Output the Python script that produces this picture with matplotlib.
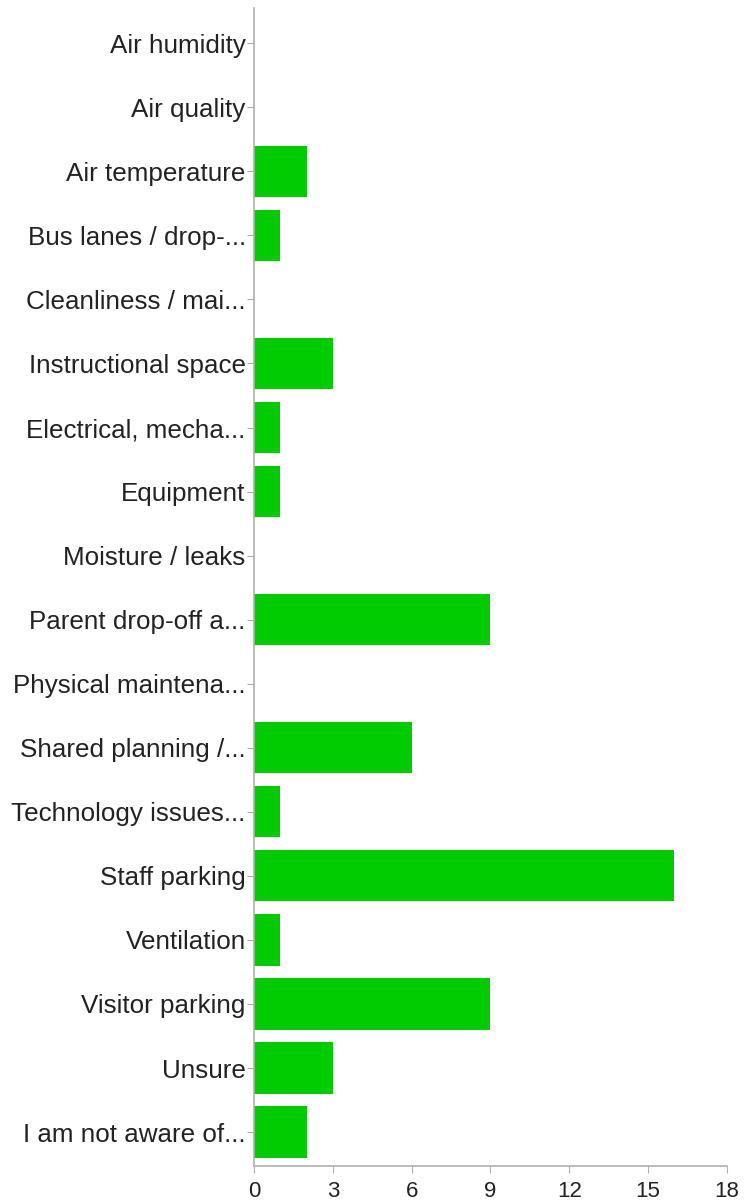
import matplotlib
matplotlib.use('Agg')
import matplotlib.pyplot as plt

categories = [
    'Air humidity', 'Air quality', 'Air temperature', 'Bus lanes / drop-...',
    'Cleanliness / mai...', 'Instructional space', 'Electrical, mecha...',
    'Equipment', 'Moisture / leaks', 'Parent drop-off a...',
    'Physical maintena...', 'Shared planning /...', 'Technology issues...',
    'Staff parking', 'Ventilation', 'Visitor parking', 'Unsure',
    'I am not aware of...',
]
counts = [0, 0, 2, 1, 0, 3, 1, 1, 0, 9, 0, 6, 1, 16, 1, 9, 3, 2]
xticks = [0, 3, 6, 9, 12, 15, 18]

plt.rcParams['font.family'] = ['Liberation Sans', 'DejaVu Sans']

fig = plt.figure(figsize=(7.44, 12.03), dpi=100)
# axes box in pixels: left 254, right 727, top 8, bottom 1166
ax = fig.add_axes([254 / 744, 37 / 1203, (727 - 254) / 744, (1166 - 8) / 1203])

y = list(range(len(categories)))
ax.barh(y, counts, height=0.8, color='#00cc00', edgecolor='none')

ax.set_ylim(len(categories) - 0.47, -0.55)
ax.set_xlim(0, 18)
ax.set_xticks(xticks)
ax.set_yticks(y)
ax.set_yticklabels(categories)

for side in ['top', 'right']:
    ax.spines[side].set_visible(False)
for side in ['left', 'bottom']:
    ax.spines[side].set_color('#b0b0b0')
    ax.spines[side].set_linewidth(1.2)

ax.tick_params(axis='y', length=5, color='#b0b0b0', labelsize=18.7, labelcolor='#222222', pad=1)
ax.tick_params(axis='x', length=5, color='#b0b0b0', labelsize=16, labelcolor='#222222', pad=6)

fig.savefig('out.png', dpi=100)
